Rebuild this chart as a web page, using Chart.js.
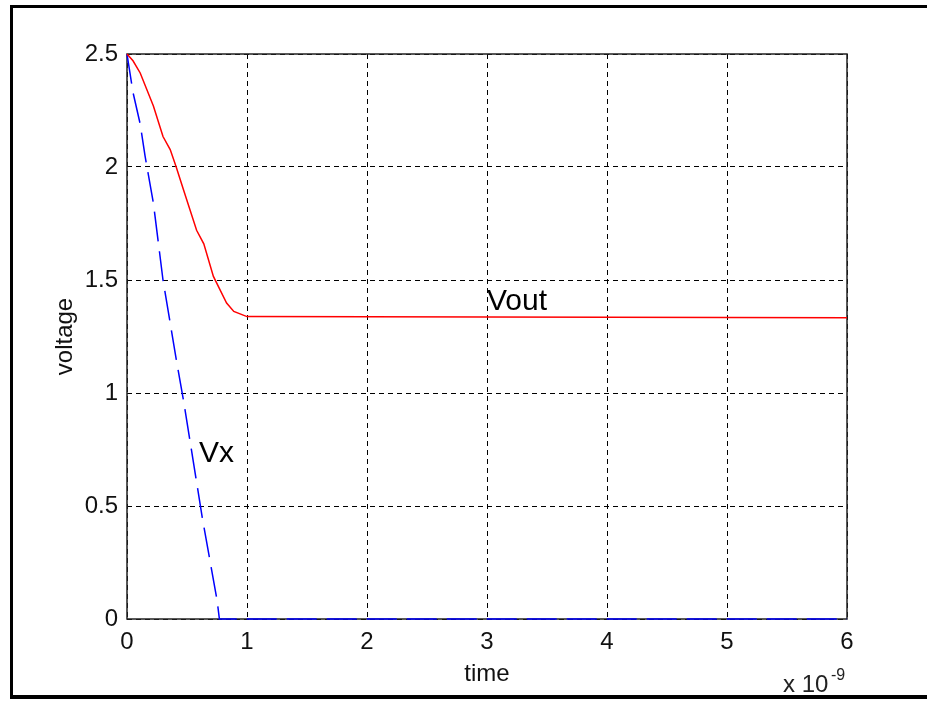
<!DOCTYPE html>
<html>
<head>
<meta charset="utf-8">
<script src="https://cdn.jsdelivr.net/npm/chart.js@4/dist/chart.umd.min.js"></script>
<style>
  html, body { margin: 0; padding: 0; background: #fff; }
  canvas { display: block; }
</style>
</head>
<body>
<canvas id="voltChart" width="927" height="701"></canvas>
<script>
// time in units of 1e-9 s
const timeVout = [0, 0.05, 0.11, 0.22, 0.30, 0.36, 0.41, 0.47, 0.58, 0.64, 0.72, 0.83, 0.89, 1.0, 6];
const vout     = [2.5, 2.47, 2.416, 2.27, 2.135, 2.077, 2.0, 1.90, 1.72, 1.66, 1.516, 1.398, 1.361, 1.338, 1.333];
const timeVx   = [0, 0.05, 0.11, 0.15, 0.22, 0.30, 0.41, 0.47, 0.63, 0.75, 0.77, 6];
const vx       = [2.5, 2.33, 2.19, 2.05, 1.84, 1.50, 1.15, 0.97, 0.44, 0.085, 0, 0];

const xTickLabels = ['0', '1', '2', '3', '4', '5', '6'];
const yTickLabels = ['0', '0.5', '1', '1.5', '2', '2.5'];

const FONT = "'Liberation Sans', Arial, sans-serif";
Chart.defaults.font.family = FONT;

const toPoints = (xs, ys) => xs.map((x, i) => ({ x: x, y: ys[i] }));

// outer frame, axes box and text labels like the original figure
const figurePlugin = {
    id: 'figure',
    beforeDatasetsDraw(chart) {
        const { ctx, chartArea: a } = chart;
        ctx.save();
        ctx.strokeStyle = '#222';
        ctx.lineWidth = 1.5;
        ctx.strokeRect(a.left, a.top, a.right - a.left, a.bottom - a.top);
        ctx.restore();
    },
    afterDraw(chart) {
        const { ctx, scales: { x, y } } = chart;
        ctx.save();
        ctx.fillStyle = '#000';
        // frame (right side is cut off in the original)
        ctx.fillRect(10, 5, 917, 3);
        ctx.fillRect(10, 5, 3, 694);
        ctx.fillRect(10, 695, 917, 4);

        // curve labels
        ctx.font = '30px ' + FONT;
        ctx.textBaseline = 'alphabetic';
        ctx.textAlign = 'left';
        ctx.fillText('Vout', x.getPixelForValue(3.0), y.getPixelForValue(1.369));
        ctx.fillText('Vx', x.getPixelForValue(0.6), y.getPixelForValue(0.696));

        // exponent of the time axis
        ctx.fillStyle = '#222';
        ctx.font = '24px ' + FONT;
        ctx.fillText('x 10', 783, 692);
        ctx.font = '16px ' + FONT;
        ctx.fillText('-9', 831, 680);
        ctx.restore();
    }
};

new Chart(document.getElementById('voltChart'), {
    type: 'line',
    data: {
        datasets: [
            {
                label: 'Vout',
                data: toPoints(timeVout, vout),
                borderColor: '#ff0000',
                borderWidth: 1.5,
                pointRadius: 0,
                tension: 0,
                clip: false
            },
            {
                label: 'Vx',
                data: toPoints(timeVx, vx),
                borderColor: '#0000ff',
                borderWidth: 1.5,
                borderDash: [30, 10],
                pointRadius: 0,
                tension: 0,
                clip: false
            }
        ]
    },
    options: {
        responsive: false,
        animation: false,
        layout: { padding: { top: 54, right: 80, left: 0, bottom: 0 } },
        plugins: {
            legend: { display: false },
            tooltip: { enabled: false }
        },
        scales: {
            x: {
                type: 'linear',
                min: 0,
                max: 6,
                afterFit: (scale) => { scale.height = 82; },
                ticks: {
                    stepSize: 1,
                    padding: 9,
                    color: '#111',
                    font: { size: 24 },
                    maxRotation: 0,
                    callback: (v, i) => xTickLabels[i]
                },
                grid: {
                    color: '#000',
                    lineWidth: 1,
                    drawTicks: false,
                    tickBorderDash: [5, 4]
                },
                border: { display: false, dash: [5, 4] },
                title: {
                    display: true,
                    text: 'time',
                    color: '#111',
                    font: { size: 24 },
                    padding: { top: 0, bottom: 12 }
                }
            },
            y: {
                type: 'linear',
                min: 0,
                max: 2.5,
                afterFit: (scale) => { scale.width = 127; },
                ticks: {
                    stepSize: 0.5,
                    padding: 9,
                    color: '#111',
                    font: { size: 24 },
                    callback: (v, i) => yTickLabels[i]
                },
                grid: {
                    color: '#000',
                    lineWidth: 1,
                    drawTicks: false
                },
                border: { display: false, dash: [5, 4] },
                title: {
                    display: true,
                    text: 'voltage',
                    color: '#111',
                    font: { size: 24 },
                    padding: { top: 51, bottom: 0 }
                }
            }
        }
    },
    plugins: [figurePlugin]
});
</script>
</body>
</html>
